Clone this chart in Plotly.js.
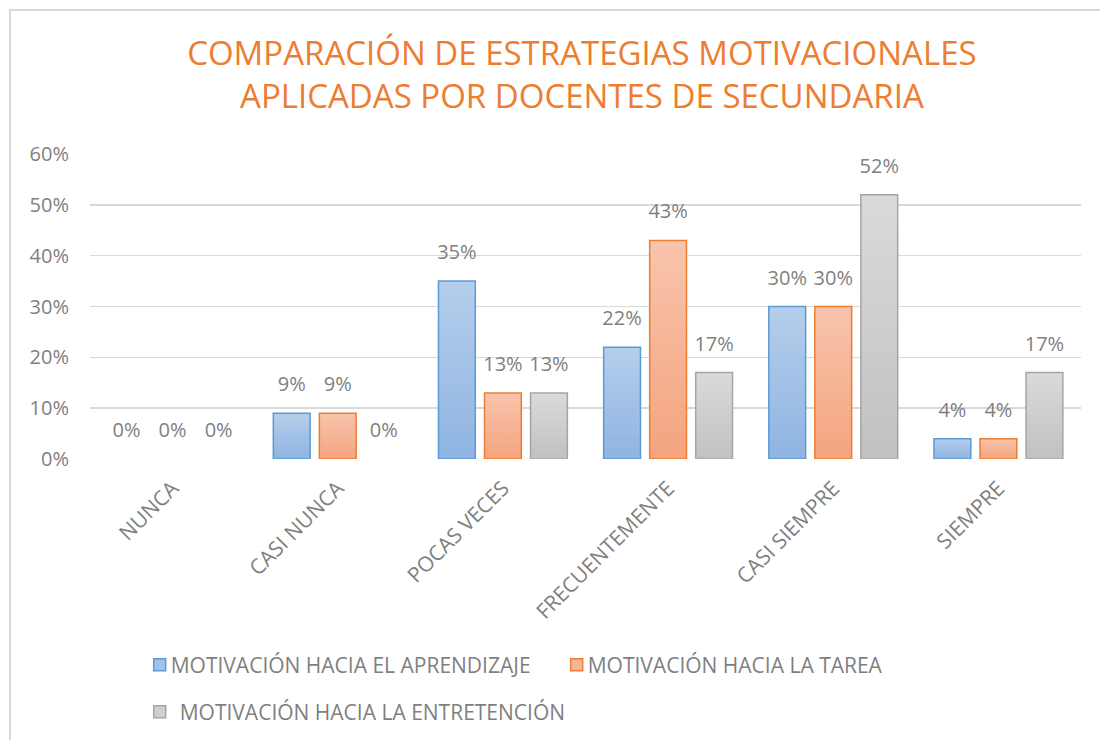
<!DOCTYPE html>
<html>
<head>
<meta charset="utf-8">
<script src="https://cdn.plot.ly/plotly-3.0.1.min.js"></script>
<style>
  html, body { margin: 0; padding: 0; background: #fff; }
  #wrap { position: relative; width: 1100px; height: 740px; overflow: hidden; }
  #chart { width: 1100px; height: 740px; }
  #frame { position: absolute; left: 9px; top: 9px; width: 1200px; height: 900px;
           border-left: 2px solid #D9D9D9; border-top: 2px solid #D9D9D9; pointer-events: none; }
</style>
</head>
<body>
<div id="wrap"><div id="chart"></div><div id="frame"></div></div>
<script>
const categories = ["NUNCA", "CASI NUNCA", "POCAS VECES", "FRECUENTEMENTE", "CASI SIEMPRE", "SIEMPRE"];
const seriesNames = ["MOTIVACIÓN HACIA EL APRENDIZAJE", "MOTIVACIÓN HACIA LA TAREA", "MOTIVACIÓN HACIA LA ENTRETENCIÓN"];
const aprendizaje = [0.00, 0.09, 0.35, 0.22, 0.30, 0.04];
const tarea = [0.00, 0.09, 0.13, 0.43, 0.30, 0.04];
const entretencion = [0.00, 0.00, 0.13, 0.17, 0.52, 0.17];
const yTickVals = [0, 0.1, 0.2, 0.3, 0.4, 0.5, 0.6];
const yTickText = ["0%", "10%", "20%", "30%", "40%", "50%", "60%"];
const titleText = "COMPARACIÓN DE ESTRATEGIAS MOTIVACIONALES<br>APLICADAS POR DOCENTES DE SECUNDARIA";

const FONT = "Open Sans, DejaVu Sans, sans-serif";
const TXT = "#7F7F7F";
const styles = [
  {fill: "#A3C1E6", line: "#5B9BD5", top: "#B5CEEB", bot: "#8FB4E2", id: "gBlue"},
  {fill: "#F6B597", line: "#ED7D31", top: "#F8C4AC", bot: "#F4A47F", id: "gOrange"},
  {fill: "#CFCFCF", line: "#A5A5A5", top: "#DADADA", bot: "#C1C1C1", id: "gGray"}
];
const values = [aprendizaje, tarea, entretencion];

const traces = values.map((v, i) => ({
  type: "bar",
  name: seriesNames[i],
  x: categories,
  y: v,
  legend: i < 2 ? "legend" : "legend2",
  marker: {color: styles[i].fill, line: {color: styles[i].line, width: 1.5}},
  texttemplate: "%{y:.0%}",
  textposition: "outside",
  constraintext: "none",
  textfont: {family: FONT, size: 20, color: TXT},
  cliponaxis: false,
  hoverinfo: "skip"
}));

const layout = {
  width: 1100, height: 740,
  paper_bgcolor: "#fff", plot_bgcolor: "#fff",
  margin: {l: 90, r: 19, t: 154, b: 281},
  font: {family: FONT, color: TXT, size: 20},
  title: {
    text: titleText,
    font: {family: FONT, size: 33, color: "#ED7D31"},
    x: 0.529, xanchor: "center", xref: "container",
    y: 1 - 65 / 740, yanchor: "middle", yref: "container"
  },
  barmode: "group",
  bargap: 0.164,
  bargroupgap: 0.2,
  xaxis: {
    type: "category",
    tickangle: -45,
    ticks: "",
    showline: false,
    showgrid: false,
    ticklabelstandoff: 12,
    tickfont: {family: FONT, size: 21, color: TXT},
    fixedrange: true
  },
  yaxis: {
    range: [0, 0.6],
    tickvals: yTickVals,
    ticktext: yTickText,
    showgrid: true,
    gridcolor: "#D9D9D9",
    gridwidth: 1.5,
    zeroline: false,
    showline: false,
    ticks: "",
    ticklabelstandoff: 20,
    tickfont: {family: FONT, size: 20, color: TXT},
    fixedrange: true
  },
  showlegend: true,
  legend: {
    orientation: "h",
    xref: "container", yref: "container",
    x: 0.127, xanchor: "left",
    y: 1 - 665 / 740, yanchor: "middle",
    entrywidth: 372, entrywidthmode: "pixels",
    itemwidth: 30,
    font: {family: FONT, size: 21, color: TXT},
    bgcolor: "rgba(0,0,0,0)"
  },
  legend2: {
    orientation: "h",
    xref: "container", yref: "container",
    x: 0.127, xanchor: "left",
    y: 1 - 712 / 740, yanchor: "middle",
    itemwidth: 30,
    font: {family: FONT, size: 21, color: TXT},
    bgcolor: "rgba(0,0,0,0)"
  }
};

const gd = document.getElementById("chart");

function tweak() {
  const svg = gd.querySelector("svg.main-svg");
  const ns = "http://www.w3.org/2000/svg";
  let defs = svg.querySelector("defs");
  if (!defs) { defs = document.createElementNS(ns, "defs"); svg.insertBefore(defs, svg.firstChild); }
  styles.forEach(s => {
    if (document.getElementById(s.id)) return;
    const lg = document.createElementNS(ns, "linearGradient");
    lg.setAttribute("id", s.id);
    lg.setAttribute("x1", "0"); lg.setAttribute("y1", "0");
    lg.setAttribute("x2", "0"); lg.setAttribute("y2", "1");
    const s1 = document.createElementNS(ns, "stop");
    s1.setAttribute("offset", "0"); s1.setAttribute("stop-color", s.top);
    const s2 = document.createElementNS(ns, "stop");
    s2.setAttribute("offset", "1"); s2.setAttribute("stop-color", s.bot);
    lg.appendChild(s1); lg.appendChild(s2);
    defs.appendChild(lg);
  });
  const traceGroups = gd.querySelectorAll("g.barlayer g.trace.bars");
  traceGroups.forEach((tg, i) => {
    tg.querySelectorAll("g.point path").forEach(p => {
      p.style.fill = "url(#" + styles[i].id + ")";
      const bb = p.getBBox();
      if (bb.height < 0.5) p.style.display = "none";
    });
    tg.querySelectorAll("text.bartext").forEach(t => {
      if (t.getAttribute("data-shifted")) return;
      const tr = t.getAttribute("transform") || "";
      t.setAttribute("transform", "translate(0,-13) " + tr);
      t.setAttribute("data-shifted", "1");
    });
  });
  gd.querySelectorAll("g.traces").forEach(item => {
    const t = item.querySelector("text.legendtext");
    const sym = item.querySelector(".legendpoints path, .legendsymbols path");
    if (!t || !sym) return;
    const sr = sym.getBoundingClientRect();
    const tr = t.getBoundingClientRect();
    const delta = (sr.right + 5) - tr.left;
    if (Math.abs(delta) < 0.5) return;
    const x = parseFloat(t.getAttribute("x") || "40") + delta;
    t.setAttribute("x", String(x));
    t.querySelectorAll("tspan[x]").forEach(ts => ts.setAttribute("x", String(x)));
  });
}

Plotly.newPlot(gd, traces, layout, {staticPlot: true, displayModeBar: false}).then(() => {
  tweak();
  setTimeout(tweak, 50);
  setTimeout(tweak, 300);
});
</script>
</body>
</html>
